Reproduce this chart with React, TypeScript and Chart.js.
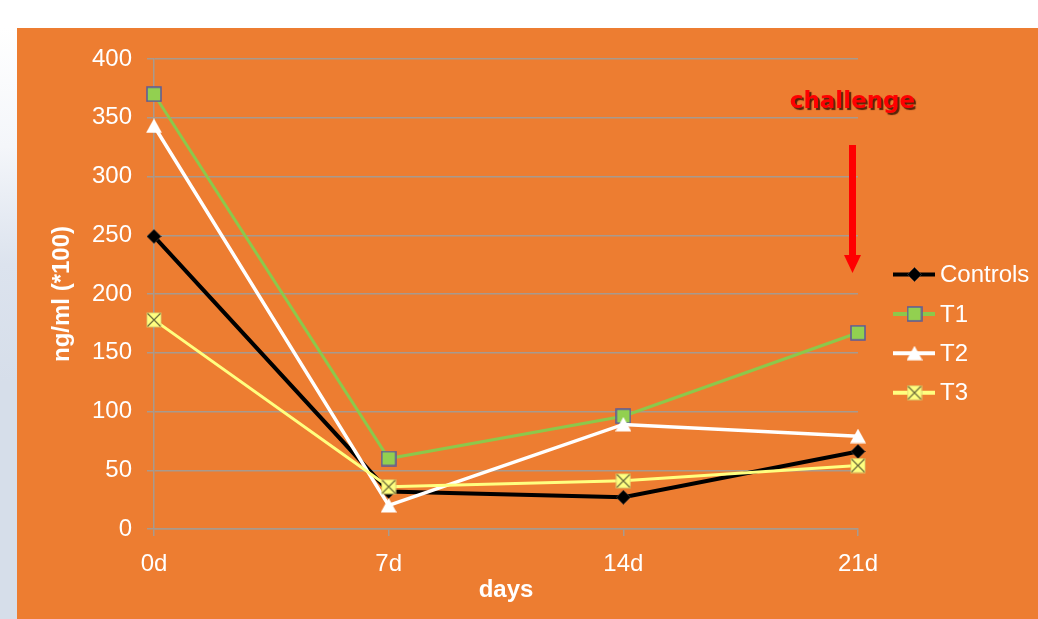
import React, { useEffect, useRef } from 'react';
import { Chart, registerables } from 'chart.js';

Chart.register(...registerables);

const categories = ['0d', '7d', '14d', '21d'];
const seriesNames = ['Controls', 'T1', 'T2', 'T3'];
const controlsValues = [249, 32, 27, 66];
const t1Values = [370, 60, 96, 167];
const t2Values = [343, 20, 89, 79];
const t3Values = [178, 36, 41, 54];
const yMin = 0;
const yMax = 400;
const yStep = 50;
const xTitle = 'days';
const yTitle = 'ng/ml (*100)';
const annotationText = 'challenge';
const annotationCategoryIndex = 3;

const ORANGE = '#ED7D31';
const GRID = '#A89A8E';
const FONT = '"Liberation Sans", Arial, sans-serif';

function makeCanvas(w: number, h: number, draw: (ctx: CanvasRenderingContext2D) => void) {
  const c = document.createElement('canvas');
  c.width = w;
  c.height = h;
  const ctx = c.getContext('2d');
  if (ctx) draw(ctx);
  return c;
}

function makeMarkers() {
  const diamond = makeCanvas(15, 15, (ctx) => {
    ctx.beginPath();
    ctx.moveTo(7.5, 0.5);
    ctx.lineTo(14.5, 7.5);
    ctx.lineTo(7.5, 14.5);
    ctx.lineTo(0.5, 7.5);
    ctx.closePath();
    ctx.fillStyle = '#000000';
    ctx.fill();
    ctx.strokeStyle = '#333333';
    ctx.lineWidth = 0.8;
    ctx.stroke();
  });
  const square = makeCanvas(16, 16, (ctx) => {
    ctx.fillStyle = '#92D050';
    ctx.fillRect(1, 1, 14, 14);
    ctx.strokeStyle = '#5A5A9A';
    ctx.lineWidth = 1.5;
    ctx.strokeRect(1, 1, 14, 14);
  });
  const triangle = makeCanvas(16, 15, (ctx) => {
    ctx.beginPath();
    ctx.moveTo(8, 0);
    ctx.lineTo(16, 14.5);
    ctx.lineTo(0, 14.5);
    ctx.closePath();
    ctx.fillStyle = '#FFFFFF';
    ctx.fill();
  });
  const xsquare = makeCanvas(16, 16, (ctx) => {
    ctx.fillStyle = '#FFFF80';
    ctx.fillRect(1, 1, 14, 14);
    ctx.strokeStyle = '#D8D070';
    ctx.lineWidth = 0.8;
    ctx.strokeRect(1, 1, 14, 14);
    ctx.strokeStyle = '#6B6B3A';
    ctx.lineWidth = 1.2;
    ctx.beginPath();
    ctx.moveTo(1.5, 1.5);
    ctx.lineTo(14.5, 14.5);
    ctx.moveTo(14.5, 1.5);
    ctx.lineTo(1.5, 14.5);
    ctx.stroke();
  });
  return [diamond, square, triangle, xsquare];
}

export default function App() {
  const canvasRef = useRef<HTMLCanvasElement | null>(null);

  useEffect(() => {
    const canvas = canvasRef.current;
    if (!canvas) return;
    const markers = makeMarkers();
    const colors = ['#000000', '#8CC84B', '#FFFFFF', '#FFFF80'];
    const widths = [4, 3, 3.5, 3];
    const values = [controlsValues, t1Values, t2Values, t3Values];

    const legendPlugin = {
      id: 'customLegend',
      afterDraw(chart: any) {
        const ctx = chart.ctx;
        const { right, top } = chart.chartArea;
        ctx.save();
        seriesNames.forEach((name, i) => {
          const y = top + 215.5 + i * 39.4;
          ctx.strokeStyle = colors[i];
          ctx.lineWidth = 4;
          ctx.beginPath();
          ctx.moveTo(right + 35, y);
          ctx.lineTo(right + 77, y);
          ctx.stroke();
          const m = markers[i];
          ctx.drawImage(m, right + 56.5 - m.width / 2, y - m.height / 2);
          ctx.fillStyle = '#FFFFFF';
          ctx.font = `24px ${FONT}`;
          ctx.textAlign = 'left';
          ctx.textBaseline = 'middle';
          ctx.fillText(name, right + 82, y + 1);
        });
        ctx.restore();
      },
    };

    const challengePlugin = {
      id: 'challenge',
      afterDraw(chart: any) {
        const ctx = chart.ctx;
        const top = chart.chartArea.top;
        const x = chart.scales.x.getPixelForValue(annotationCategoryIndex) - 5.5;
        ctx.save();
        ctx.font = 'bold 23px "DejaVu Sans", Verdana, sans-serif';
        ctx.textAlign = 'center';
        ctx.textBaseline = 'alphabetic';
        ctx.shadowColor = 'rgba(60,20,0,0.85)';
        ctx.shadowOffsetX = 2;
        ctx.shadowOffsetY = 2;
        ctx.shadowBlur = 1;
        ctx.fillStyle = '#FF0000';
        ctx.fillText(annotationText, x, top + 49);
        ctx.restore();
        ctx.save();
        ctx.fillStyle = '#FF0000';
        ctx.fillRect(x - 3.5, top + 86, 7, 111);
        ctx.beginPath();
        ctx.moveTo(x - 8.5, top + 196);
        ctx.lineTo(x + 8.5, top + 196);
        ctx.lineTo(x, top + 214);
        ctx.closePath();
        ctx.fill();
        ctx.restore();
      },
    };

    const chart = new Chart(canvas, {
      type: 'line',
      data: {
        labels: categories,
        datasets: seriesNames.map((name, i) => ({
          label: name,
          data: values[i],
          borderColor: colors[i],
          backgroundColor: colors[i],
          borderWidth: widths[i],
          pointStyle: markers[i] as any,
          pointRadius: 8,
          pointHoverRadius: 8,
          tension: 0,
          fill: false,
          order: 3 - i,
        })),
      },
      options: {
        responsive: false,
        animation: false,
        events: [],
        layout: { padding: { top: 31, right: 180, bottom: 0, left: 0 } },
        plugins: {
          legend: { display: false },
          tooltip: { enabled: false },
        },
        scales: {
          x: {
            type: 'category',
            offset: false,
            grid: { drawOnChartArea: false, drawTicks: true, tickLength: 7, color: GRID, lineWidth: 1.5 },
            border: { display: true, color: GRID, width: 1.5 },
            ticks: { color: '#FFFFFF', font: { family: FONT, size: 24 }, padding: 13.5, maxRotation: 0 },
            title: {
              display: true,
              text: xTitle,
              color: '#FFFFFF',
              font: { family: FONT, size: 24, weight: 'bold' },
              padding: { top: 0, bottom: 14 },
            },
            afterFit(scale: any) {
              scale.height = 90;
            },
          },
          y: {
            min: yMin,
            max: yMax,
            ticks: { stepSize: yStep, color: '#FFFFFF', font: { family: FONT, size: 24 }, padding: 15 },
            grid: { color: GRID, tickLength: 7, drawTicks: true, lineWidth: 1.5 },
            border: { display: true, color: GRID, width: 1.5 },
            title: {
              display: true,
              text: yTitle,
              color: '#FFFFFF',
              font: { family: FONT, size: 24, weight: 'bold' },
              padding: { top: 30.5, bottom: 0 },
            },
            afterFit(scale: any) {
              scale.width = 137;
            },
          },
        },
      } as any,
      plugins: [legendPlugin, challengePlugin],
    });
    return () => chart.destroy();
  }, []);

  return (
    <div style={{ position: 'absolute', left: 0, top: 0, width: 1038, height: 619, background: '#FFFFFF', overflow: 'hidden' }}>
      <div
        style={{
          position: 'absolute',
          left: 0,
          top: 28,
          width: 17,
          height: 591,
          background: 'linear-gradient(to bottom, #FFFFFF 0%, #F4F6FA 20%, #DCE3EE 40%, #D6DEEA 60%, #D6DEEA 100%)',
        }}
      />
      <div style={{ position: 'absolute', left: 17, top: 28, width: 1021, height: 591, background: ORANGE }}>
        <canvas ref={canvasRef} width={1021} height={591} style={{ width: 1021, height: 591, display: 'block' }} />
      </div>
    </div>
  );
}
